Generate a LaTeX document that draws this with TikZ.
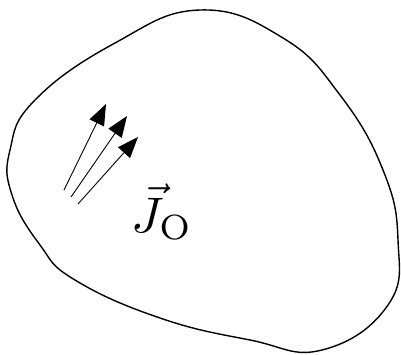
\documentclass[tikz,border=0pt]{standalone}
\usepackage{amsmath,amssymb}
\usetikzlibrary{arrows.meta}

\begin{document}
\begin{tikzpicture}[x=1pt,y=-1pt,
    flux/.style={-{Triangle[length=21pt,width=16pt]},line width=0.9pt}]
  \useasboundingbox (0,0) rectangle (401,354);
  % boundary of the region
  \draw[line width=1.4pt] plot[smooth cycle,tension=0.75] coordinates {
    (200,10) (283,38) (340,95) (383,170) (398,240) (388,305)
    (322,350) (250,340) (160,318) (75,280) (40,245) (12,195)
    (10,150) (35,100) (115,43)};
  \coordinate (s1) at (64,190);  \coordinate (t1) at (106,104);
  \coordinate (s2) at (71,197);  \coordinate (t2) at (127,116);
  \coordinate (s3) at (78,204);  \coordinate (t3) at (138,137);
  \draw[flux] (s1) -- (t1);
  \draw[flux] (s2) -- (t2);
  \draw[flux] (s3) -- (t3);
  \node[scale=5] (J) at (162,212) {$\vec{J}_\mathrm{O}$};
\end{tikzpicture}
\end{document}
